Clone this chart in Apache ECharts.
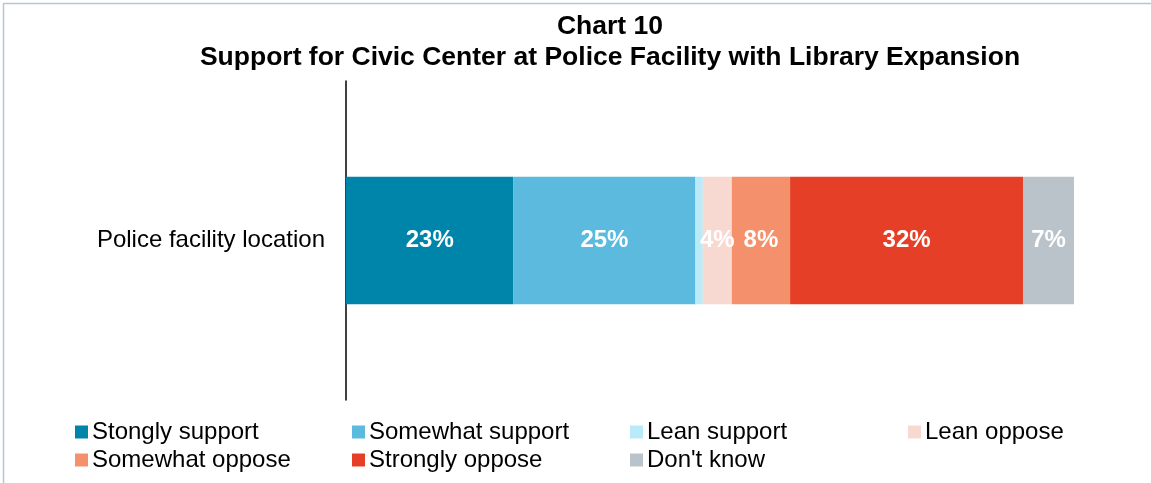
<!DOCTYPE html>
<html>
<head>
<meta charset="utf-8">
<script src="https://cdn.jsdelivr.net/npm/echarts@6/dist/echarts.min.js"></script>
<style>
  html, body { margin: 0; padding: 0; background: #fff; }
  #chart { width: 1151px; height: 483px; }
</style>
</head>
<body>
<div id="chart"></div>
<script>
// Survey responses for one location, shown as a 100% stacked bar
const categories = ['Police facility location'];
const seriesNames = ['Stongly support', 'Somewhat support', 'Lean support', 'Lean oppose',
                     'Somewhat oppose', 'Strongly oppose', "Don't know"];
const stronglySupport = [23];
const somewhatSupport = [25];
const leanSupport = [1];
const leanOppose = [4];
const somewhatOppose = [8];
const stronglyOppose = [32];
const dontKnow = [7];
const seriesValues = [stronglySupport, somewhatSupport, leanSupport, leanOppose,
                      somewhatOppose, stronglyOppose, dontKnow];
const colors = ['#0085AA', '#5BBADD', '#B9EAF9', '#F8D9D1', '#F4916C', '#E63F27', '#B9C3C9'];
const showLabel = [true, true, false, true, true, true, true];

const FONT = '"Liberation Sans", Arial, sans-serif';

const series = seriesNames.map((name, i) => ({
  name: name,
  type: 'bar',
  stack: 'total',
  barWidth: '40%',
  data: seriesValues[i],
  itemStyle: { color: colors[i] },
  label: {
    show: showLabel[i],
    position: 'inside',
    color: '#fff',
    fontFamily: FONT,
    fontWeight: 'bold',
    fontSize: 24,
    formatter: p => p.value + '%'
  },
  emphasis: { disabled: true }
}));

// Legend laid out in four fixed columns, two rows
const colX = [75, 352, 630, 908];
const rowY = [420, 448];
const legends = seriesNames.map((name, i) => ({
  data: [name],
  left: colX[i % 4],
  top: rowY[Math.floor(i / 4)],
  orient: 'horizontal',
  itemWidth: 13,
  itemHeight: 13,
  itemGap: 0,
  icon: 'rect',
  selectedMode: false,
  textStyle: { fontFamily: FONT, fontSize: 24, color: '#000', padding: [0, 0, 0, -1] },
  padding: 0
}));

const chart = echarts.init(document.getElementById('chart'), null, { renderer: 'canvas' });
chart.setOption({
  animation: false,
  backgroundColor: '#fff',
  color: colors,
  title: {
    text: 'Chart 10\nSupport for Civic Center at Police Facility with Library Expansion',
    left: 605,
    textAlign: 'center',
    top: 6,
    textStyle: {
      fontFamily: FONT,
      fontWeight: 'bold',
      fontSize: 26.5,
      lineHeight: 31,
      color: '#000'
    }
  },
  graphic: [{
    type: 'rect',
    shape: { x: 3.5, y: 3.5, width: 1160, height: 500 },
    style: { fill: 'none', stroke: '#BAC6CE', lineWidth: 1.5 },
    silent: true
  }],
  legend: legends,
  grid: { left: 346, right: 77, top: 81, bottom: 83, containLabel: false },
  xAxis: {
    type: 'value',
    min: 0,
    max: 100,
    show: false
  },
  yAxis: {
    type: 'category',
    data: categories,
    axisLine: { show: true, lineStyle: { color: '#000', width: 1.5 } },
    axisTick: { show: false },
    axisLabel: { fontFamily: FONT, fontSize: 24, color: '#000', margin: 21 },
    splitLine: { show: false }
  },
  series: series
});
</script>
</body>
</html>
